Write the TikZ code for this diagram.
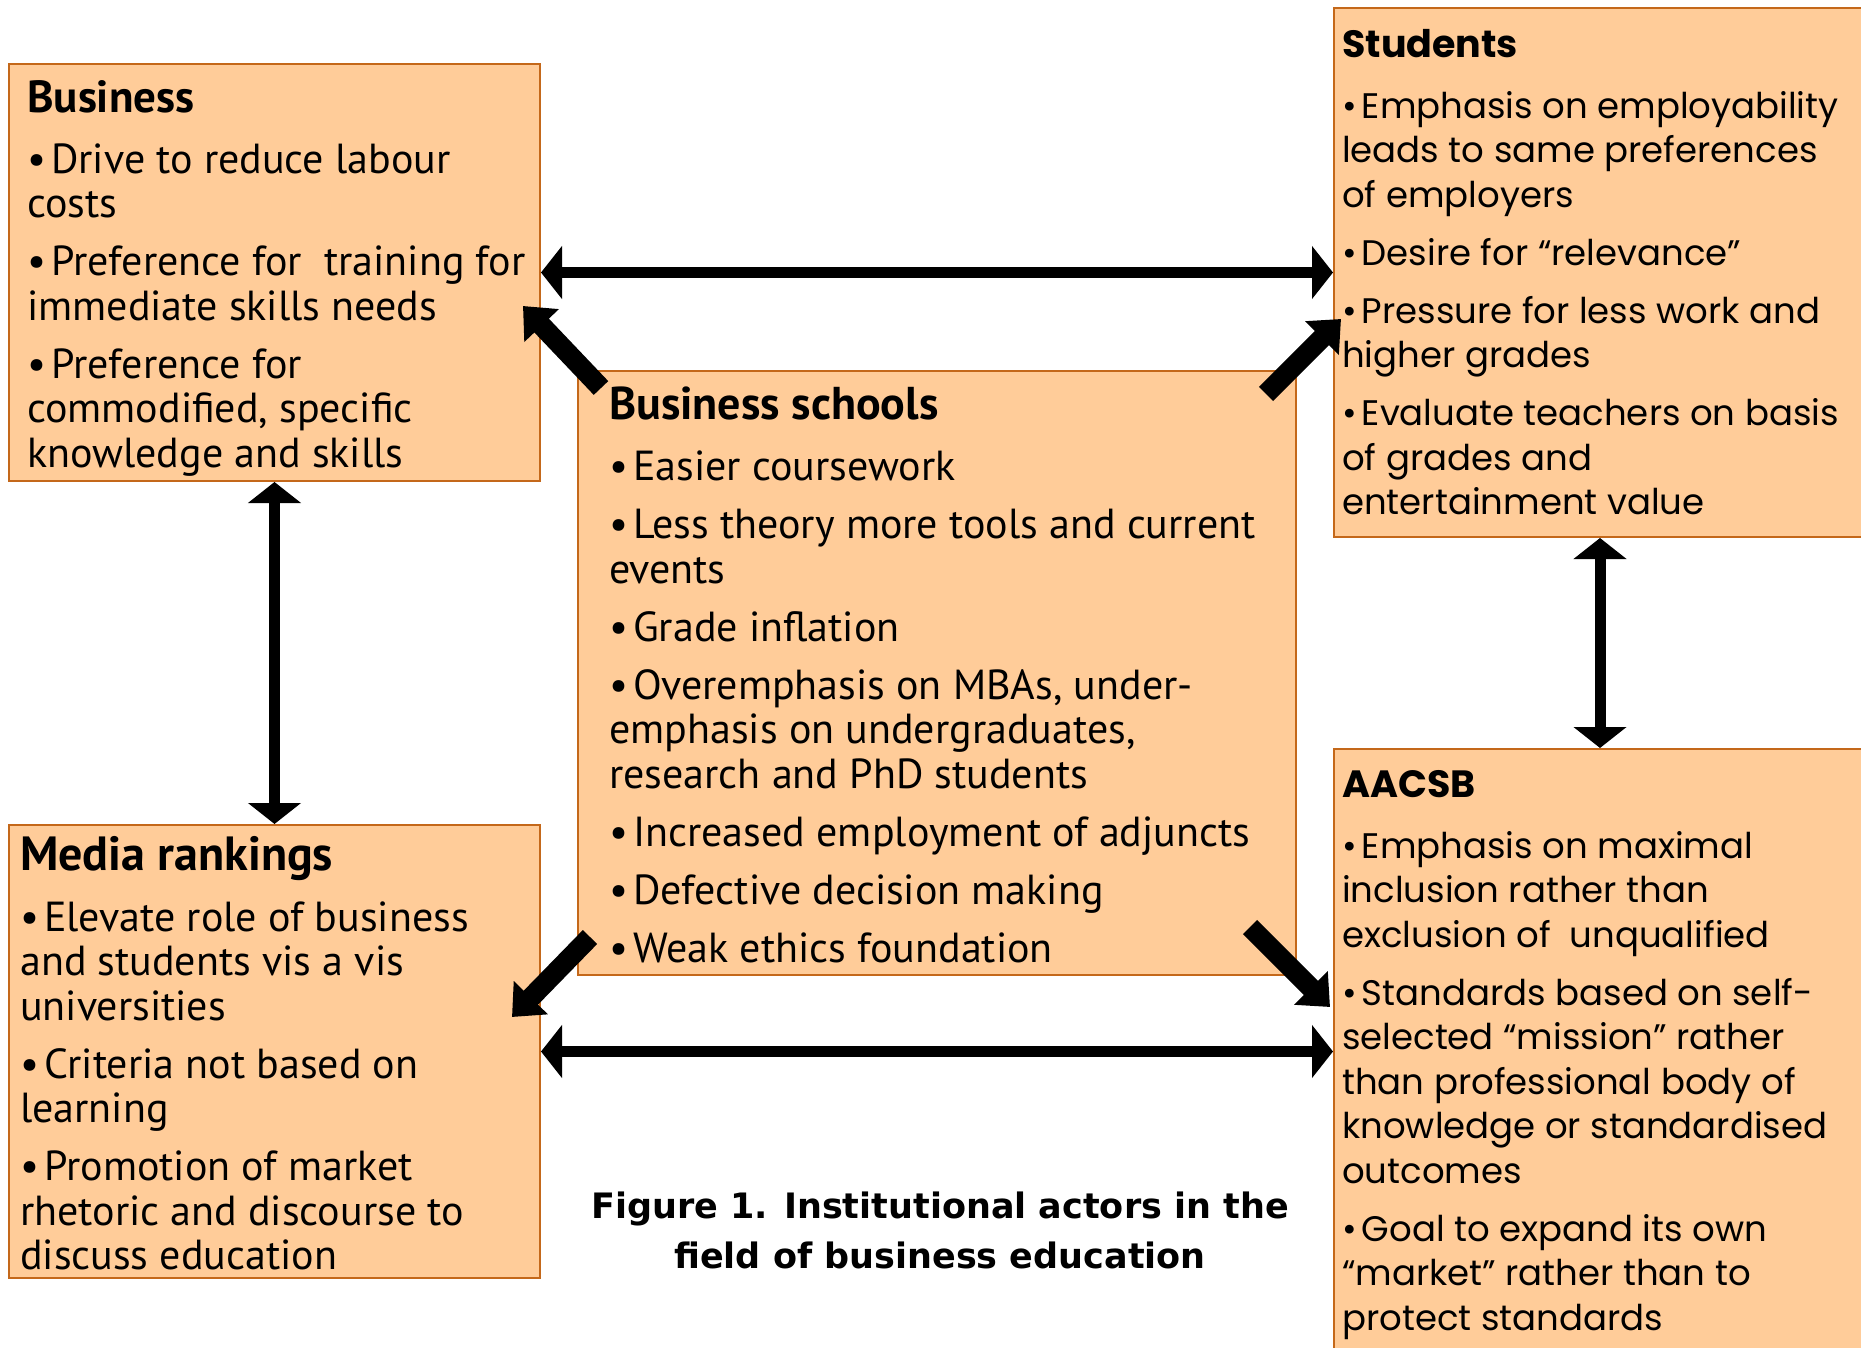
\documentclass[tikz,border=0pt]{standalone}
\usepackage{fontspec}
\setmainfont{PT Sans}
\newfontfamily\roundfont{Poppins}
\newfontfamily\capfont{DejaVu Sans}
\usetikzlibrary{arrows.meta,positioning}

\definecolor{boxfill}{RGB}{255,204,153}
\definecolor{boxline}{RGB}{196,104,26}

\tikzset{
  actor/.style={draw=boxline,fill=boxfill,line width=2pt,inner sep=0pt,anchor=north west},
  itemtext/.style={align=left,inner sep=0pt,font=\fontsize{42}{44.5}\selectfont},
  rounditem/.style={itemtext,font=\roundfont\fontsize{35.5}{44.5}\selectfont},
  link/.style={line width=11pt,{Triangle[width=52pt,length=21pt]}-{Triangle[width=52pt,length=21pt]}},
  push/.style={line width=20pt,-{Triangle[width=46pt,length=27pt]}}
}
\newcommand{\itm}{\textbullet\hspace{5pt}}
\newcommand{\boxtitle}[2]{{\bfseries\fontsize{#1}{44.5}\selectfont #2}}

\begin{document}
\begin{tikzpicture}[x=1pt,y=-1pt]
\useasboundingbox (0,0) rectangle (1861,1348);

% the five boxes
\node[actor,minimum width=531pt,minimum height=417pt] (biz) at (8,63) {};
\node[actor,minimum width=718pt,minimum height=604pt] (bs) at (577,370) {};
\node[actor,minimum width=532pt,minimum height=529pt] (stud) at (1333,7) {};
\node[actor,minimum width=531pt,minimum height=453pt] (media) at (8,824) {};
\node[actor,minimum width=532pt,minimum height=604pt] (aacsb) at (1333,748) {};

\node[itemtext,below right=17pt and 19pt of biz.north west] (biztxt) {%
\boxtitle{45}{Business}\\[16.5pt]
\itm Drive to reduce labour\\
costs\\[13.5pt]
\itm Preference for\ \ training for\\
immediate skills needs\\[13.5pt]
\itm Preference for\\
commodified, specific\\
knowledge and skills};

\node[itemtext,below right=17pt and 32pt of bs.north west] (bstxt) {%
\boxtitle{46}{Business schools}\\[16.5pt]
\itm Easier coursework\\[13.5pt]
\itm Less theory more tools and current\\
events\\[13.5pt]
\itm Grade inflation\\[13.5pt]
\itm Overemphasis on MBAs, under-\\
emphasis on undergraduates,\\
research and PhD students\\[13.5pt]
\itm Increased employment of adjuncts\\[13.5pt]
\itm Defective decision making\\[13.5pt]
\itm Weak ethics foundation};

\node[rounditem,below right=22pt and 9pt of stud.north west] (studtxt) {%
\boxtitle{38}{Students}\\[16.5pt]
\itm Emphasis on employability\\
leads to same preferences\\
of employers\\[13.5pt]
\itm Desire for “relevance”\\[13.5pt]
\itm Pressure for less work and\\
higher grades\\[13.5pt]
\itm Evaluate teachers on basis\\
of grades and\\
entertainment value};

\node[itemtext,below right=12pt and 12pt of media.north west] (mediatxt) {%
\boxtitle{48}{Media rankings}\\[16.5pt]
\itm Elevate role of business\\
and students vis a vis\\
universities\\[13.5pt]
\itm Criteria not based on\\
learning\\[13.5pt]
\itm Promotion of market\\
rhetoric and discourse to\\
discuss education};

\node[rounditem,below right=22pt and 9pt of aacsb.north west] (aacsbtxt) {%
\boxtitle{38}{AACSB}\\[16.5pt]
\itm Emphasis on maximal\\
inclusion rather than\\
exclusion of\ \ unqualified\\[13.5pt]
\itm Standards based on self-\\
selected “mission” rather\\
than professional body of\\
knowledge or standardised\\
outcomes\\[13.5pt]
\itm Goal to expand its own\\
“market” rather than to\\
protect standards};

\node[align=center,font=\capfont\bfseries\fontsize{35}{50}\selectfont] (caption) at (940,1230)
  {Figure 1. Institutional actors in the\\field of business education};

% two-way links
\draw[link] (biz.east) -- (stud.west);
\draw[link] (media.east) -- (media.east -| aacsb.west);
\draw[link] (biz.south) -- (media.north);
\draw[link] (stud.south) -- (aacsb.north);

% pressure from the schools
\coordinate (tlTail) at (601,388);
\coordinate (tlTip) at (523,306);
\coordinate (trTail) at (1266,394);
\coordinate (trTip) at (1341,319);
\coordinate (blTail) at (590,937);
\coordinate (blTip) at (512,1017);
\coordinate (brTail) at (1250,927);
\coordinate (brTip) at (1330,1007);
\draw[push] (tlTail) -- (tlTip);
\draw[push] (trTail) -- (trTip);
\draw[push] (blTail) -- (blTip);
\draw[push] (brTail) -- (brTip);
\end{tikzpicture}
\end{document}
